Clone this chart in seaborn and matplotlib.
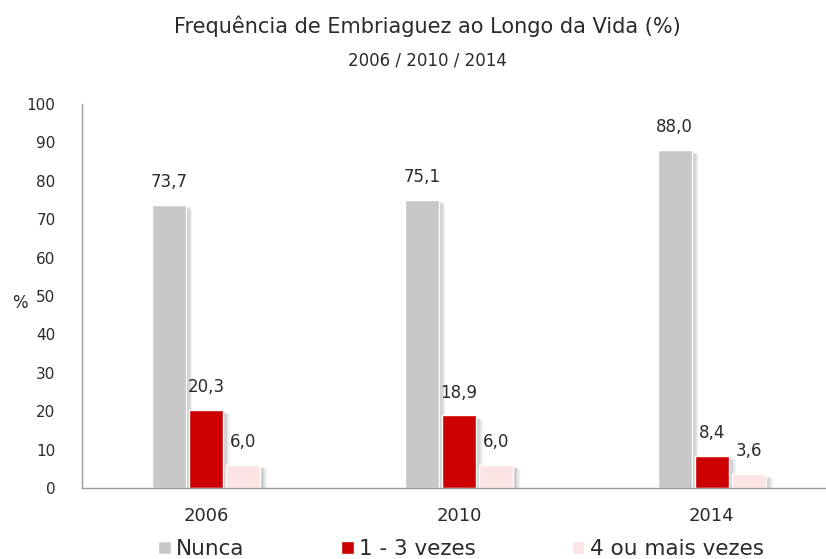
import pandas as pd
import numpy as np
import seaborn as sns
import matplotlib.pyplot as plt
import matplotlib.patheffects as pe


# dados
anos = ['2006', '2010', '2014']
categorias = ['Nunca', '1 - 3 vezes', '4 ou mais vezes']
nunca = [73.7, 75.1, 88.0]
uma_tres = [20.3, 18.9, 8.4]
quatro_mais = [6.0, 6.0, 3.6]
cores = ['#C8C8C8', '#CC0000', '#FCE4E4']

df = pd.DataFrame({
    'ano': anos * 3,
    'freq': np.repeat(categorias, 3),
    'valor': nunca + uma_tres + quatro_mais,
})

sns.set_style("white")
plt.rcParams['font.family'] = ['DejaVu Sans']
plt.rcParams['text.color'] = '#2a2a2a'

fig = plt.figure(figsize=(8.26, 5.59), dpi=100)
ax = fig.add_axes([82/826, 1-488/559, 1-82/826, (488-104)/559])

sns.barplot(data=df, x='ano', y='valor', hue='freq', hue_order=categorias,
            palette=cores, width=0.44, gap=0.1, saturation=1, ax=ax)

# sombra suave
shadow = [pe.SimplePatchShadow(offset=(d, -0.6 * d), alpha=0.07, shadow_rgbFace='#303030')
          for d in (1, 2, 3, 4, 5)] + [pe.Normal()]
for cont in ax.containers:
    for bar in cont:
        bar.set_path_effects(shadow)
    ax.bar_label(cont, labels=[f"{b.get_height():.1f}".replace('.', ',') for b in cont],
                 padding=10, fontsize=12, color='#2a2a2a')

ax.set_ylim(0, 100)
ax.set_yticks(range(0, 101, 10))
ax.set_xlim(-0.49, 2.451)
ax.tick_params(axis='y', length=0, pad=19, labelsize=11, colors='#2a2a2a')
ax.tick_params(axis='x', length=0, pad=14, labelsize=13, colors='#2a2a2a')
ax.set_xlabel('')
ax.set_ylabel('%', rotation=0, fontsize=12, va='center', ha='center')
ax.yaxis.set_label_coords(-0.083, 0.482)
sns.despine(ax=ax)
for s in ['left', 'bottom']:
    ax.spines[s].set_color('#9a9a9a')
    ax.spines[s].set_linewidth(1)

handles, labels = ax.get_legend_handles_labels()
ax.get_legend().remove()
fig.legend(handles, labels, loc='center left', bbox_to_anchor=(158/826, 1-549/559), ncol=3,
           frameon=False, fontsize=15.5, handlelength=0.6, handleheight=0.6,
           handletextpad=0.25, columnspacing=4.45, borderaxespad=0, borderpad=0)

fig.text(0.517, 1-26/559, 'Frequência de Embriaguez ao Longo da Vida (%)',
         ha='center', va='center', fontsize=15)
fig.text(0.517, 1-61/559, '2006 / 2010 / 2014', ha='center', va='center', fontsize=12)

plt.savefig("out.png", dpi=100)
plt.close()
